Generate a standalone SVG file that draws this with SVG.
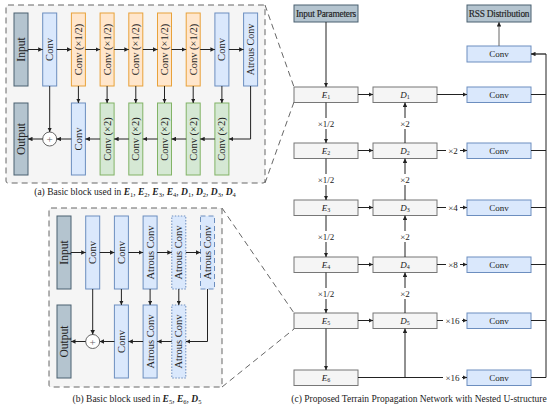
<svg xmlns="http://www.w3.org/2000/svg" width="550" height="406" viewBox="0 0 550 406">
<defs>
<marker id="ah" viewBox="0 0 10 10" refX="10" refY="5" markerWidth="4.5" markerHeight="4.5" markerUnits="userSpaceOnUse" orient="auto"><path d="M0,0 L10,5 L0,10 z" fill="#222"/></marker>
<style>
text{font-family:"Liberation Serif","DejaVu Serif",serif;fill:#222}
.panel{fill:#f5f5f5;stroke:#666;stroke-width:1;stroke-dasharray:6 4}
.zoomln{fill:none;stroke:#555;stroke-width:0.9;stroke-dasharray:6 4}
.io{fill:#b4c4cf;stroke:#4a6070;stroke-width:1}
.blue{fill:#dae8fc;stroke:#6c8ebf;stroke-width:1}
.orange{fill:#ffe6cc;stroke:#e8a23a;stroke-width:1}
.green{fill:#d5e8d4;stroke:#82b366;stroke-width:1}
.gray{fill:#f5f5f5;stroke:#777;stroke-width:1}
.dot{stroke-dasharray:1.5 1.5}
.dash{stroke-dasharray:5 3}
.ln{fill:none;stroke:#222;stroke-width:1}
.arr{fill:none;stroke:#222;stroke-width:1;marker-end:url(#ah)}
.vt{font-size:10.5px;text-anchor:middle;dominant-baseline:central}
.vio{font-size:11.5px;text-anchor:middle;dominant-baseline:central}
.ht{font-size:9px;text-anchor:middle;dominant-baseline:central}
.hio{font-size:9.3px;text-anchor:middle;dominant-baseline:central;letter-spacing:-0.2px;stroke:#222;stroke-width:0.15}
.cap{font-size:9.5px;text-anchor:middle}
.lbl{font-size:9px;text-anchor:middle;dominant-baseline:central}
.plus{fill:#fff;stroke:#666;stroke-width:1}
</style>
</defs>

<!-- panel backgrounds -->
<rect class="panel" x="6" y="5" width="259" height="178" rx="2"/>
<rect class="panel" x="49" y="208" width="173" height="179" rx="2"/>
<g id="zoom-lines">
<line class="zoomln" x1="265" y1="5" x2="294" y2="87"/>
<line class="zoomln" x1="265" y1="183" x2="294" y2="102"/>
<line class="zoomln" x1="222" y1="208" x2="294" y2="313"/>
<line class="zoomln" x1="222" y1="387" x2="294" y2="329"/>
</g>

<!-- ===== Panel (a) ===== -->
<g id="a-input"><rect class="io" x="14" y="13" width="14" height="73"/><text class="vio" transform="translate(21,49.5) rotate(-90)">Input</text></g>
<g id="a-conv1"><rect class="blue" x="42.7" y="13" width="14" height="73"/><text class="vt" transform="translate(49.7,49.5) rotate(-90)">Conv</text></g>
<g id="a-down1"><rect class="orange" x="71.4" y="13" width="14" height="73"/><text class="vt" transform="translate(78.4,49.5) rotate(-90)">Conv (×1/2)</text></g>
<g id="a-down2"><rect class="orange" x="100.1" y="13" width="14" height="73"/><text class="vt" transform="translate(107.1,49.5) rotate(-90)">Conv (×1/2)</text></g>
<g id="a-down3"><rect class="orange" x="128.8" y="13" width="14" height="73"/><text class="vt" transform="translate(135.8,49.5) rotate(-90)">Conv (×1/2)</text></g>
<g id="a-down4"><rect class="orange" x="157.5" y="13" width="14" height="73"/><text class="vt" transform="translate(164.5,49.5) rotate(-90)">Conv (×1/2)</text></g>
<g id="a-down5"><rect class="orange" x="186.2" y="13" width="14" height="73"/><text class="vt" transform="translate(193.2,49.5) rotate(-90)">Conv (×1/2)</text></g>
<g id="a-conv2"><rect class="blue" x="214.9" y="13" width="14" height="73"/><text class="vt" transform="translate(221.9,49.5) rotate(-90)">Conv</text></g>
<g id="a-atrous"><rect class="blue" x="243.6" y="13" width="14" height="73"/><text class="vt" style="font-size:10px" transform="translate(250.6,49.5) rotate(-90)">Atrous Conv</text></g>

<g id="a-output"><rect class="io" x="14" y="103" width="14" height="72"/><text class="vio" transform="translate(21,139) rotate(-90)">Output</text></g>
<g id="a-plus"><circle class="plus" cx="49.7" cy="139" r="7"/><text x="49.7" y="139" style="font-size:11px;text-anchor:middle;dominant-baseline:central;fill:#666">+</text></g>
<g id="a-conv3"><rect class="blue" x="71.4" y="103" width="14" height="72"/><text class="vt" transform="translate(78.4,139) rotate(-90)">Conv</text></g>
<g id="a-up1"><rect class="green" x="100.1" y="103" width="14" height="72"/><text class="vt" transform="translate(107.1,139) rotate(-90)">Conv (×2)</text></g>
<g id="a-up2"><rect class="green" x="128.8" y="103" width="14" height="72"/><text class="vt" transform="translate(135.8,139) rotate(-90)">Conv (×2)</text></g>
<g id="a-up3"><rect class="green" x="157.5" y="103" width="14" height="72"/><text class="vt" transform="translate(164.5,139) rotate(-90)">Conv (×2)</text></g>
<g id="a-up4"><rect class="green" x="186.2" y="103" width="14" height="72"/><text class="vt" transform="translate(193.2,139) rotate(-90)">Conv (×2)</text></g>
<g id="a-up5"><rect class="green" x="214.9" y="103" width="14" height="72"/><text class="vt" transform="translate(221.9,139) rotate(-90)">Conv (×2)</text></g>

<g id="a-connectors">
<line class="arr" x1="28" y1="49.5" x2="42.7" y2="49.5"/>
<line class="arr" x1="56.7" y1="49.5" x2="71.4" y2="49.5"/>
<line class="arr" x1="85.4" y1="49.5" x2="100.1" y2="49.5"/>
<line class="arr" x1="114.1" y1="49.5" x2="128.8" y2="49.5"/>
<line class="arr" x1="142.8" y1="49.5" x2="157.5" y2="49.5"/>
<line class="arr" x1="171.5" y1="49.5" x2="186.2" y2="49.5"/>
<line class="arr" x1="200.2" y1="49.5" x2="214.9" y2="49.5"/>
<line class="arr" x1="228.9" y1="49.5" x2="243.6" y2="49.5"/>
<line class="arr" x1="78.4" y1="86" x2="78.4" y2="103"/>
<line class="arr" x1="107.1" y1="86" x2="107.1" y2="103"/>
<line class="arr" x1="135.8" y1="86" x2="135.8" y2="103"/>
<line class="arr" x1="164.5" y1="86" x2="164.5" y2="103"/>
<line class="arr" x1="193.2" y1="86" x2="193.2" y2="103"/>
<line class="arr" x1="221.9" y1="86" x2="221.9" y2="103"/>
<polyline class="arr" points="250.6,86 250.6,139 228.9,139"/>
<line class="arr" x1="214.9" y1="139" x2="200.2" y2="139"/>
<line class="arr" x1="186.2" y1="139" x2="171.5" y2="139"/>
<line class="arr" x1="157.5" y1="139" x2="142.8" y2="139"/>
<line class="arr" x1="128.8" y1="139" x2="114.1" y2="139"/>
<line class="arr" x1="100.1" y1="139" x2="85.4" y2="139"/>
<line class="arr" x1="71.4" y1="139" x2="56.7" y2="139"/>
<line class="arr" x1="42.7" y1="139" x2="28" y2="139"/>
<line class="arr" x1="49.7" y1="86" x2="49.7" y2="132"/>
</g>
<text class="cap" x="135" y="195">(a) Basic block used in <tspan font-style="italic" font-weight="bold">E</tspan><tspan font-size="6.5" dy="2">1</tspan><tspan dy="-2">, </tspan><tspan font-style="italic" font-weight="bold">E</tspan><tspan font-size="6.5" dy="2">2</tspan><tspan dy="-2">, </tspan><tspan font-style="italic" font-weight="bold">E</tspan><tspan font-size="6.5" dy="2">3</tspan><tspan dy="-2">, </tspan><tspan font-style="italic" font-weight="bold">E</tspan><tspan font-size="6.5" dy="2">4</tspan><tspan dy="-2">, </tspan><tspan font-style="italic" font-weight="bold">D</tspan><tspan font-size="6.5" dy="2">1</tspan><tspan dy="-2">, </tspan><tspan font-style="italic" font-weight="bold">D</tspan><tspan font-size="6.5" dy="2">2</tspan><tspan dy="-2">, </tspan><tspan font-style="italic" font-weight="bold">D</tspan><tspan font-size="6.5" dy="2">3</tspan><tspan dy="-2">, </tspan><tspan font-style="italic" font-weight="bold">D</tspan><tspan font-size="6.5" dy="2">4</tspan></text>

<!-- ===== Panel (b) ===== -->
<g id="b-input"><rect class="io" x="57" y="216" width="14" height="73"/><text class="vio" transform="translate(64,252.5) rotate(-90)">Input</text></g>
<g id="b-conv1"><rect class="blue" x="85.7" y="216" width="14" height="73"/><text class="vt" transform="translate(92.7,252.5) rotate(-90)">Conv</text></g>
<g id="b-conv2"><rect class="blue" x="114.4" y="216" width="14" height="73"/><text class="vt" transform="translate(121.4,252.5) rotate(-90)">Conv</text></g>
<g id="b-atrous1"><rect class="blue" x="143.1" y="216" width="14" height="73"/><text class="vt" transform="translate(150.1,252.5) rotate(-90)">Atrous Conv</text></g>
<g id="b-atrous2"><rect class="blue dot" x="171.8" y="216" width="14" height="73"/><text class="vt" transform="translate(178.8,252.5) rotate(-90)">Atrous Conv</text></g>
<g id="b-atrous3"><rect class="blue dash" x="200.5" y="216" width="14" height="73"/><text class="vt" transform="translate(207.5,252.5) rotate(-90)">Atrous Conv</text></g>

<g id="b-output"><rect class="io" x="57" y="305" width="14" height="73"/><text class="vio" transform="translate(64,341.5) rotate(-90)">Output</text></g>
<g id="b-plus"><circle class="plus" cx="92.7" cy="341.5" r="7"/><text x="92.7" y="341.5" style="font-size:11px;text-anchor:middle;dominant-baseline:central;fill:#666">+</text></g>
<g id="b-conv3"><rect class="blue" x="114.4" y="305" width="14" height="73"/><text class="vt" transform="translate(121.4,341.5) rotate(-90)">Conv</text></g>
<g id="b-atrous4"><rect class="blue" x="143.1" y="305" width="14" height="73"/><text class="vt" transform="translate(150.1,341.5) rotate(-90)">Atrous Conv</text></g>
<g id="b-atrous5"><rect class="blue dot" x="171.8" y="305" width="14" height="73"/><text class="vt" transform="translate(178.8,341.5) rotate(-90)">Atrous Conv</text></g>

<g id="b-connectors">
<line class="arr" x1="71" y1="252.5" x2="85.7" y2="252.5"/>
<line class="arr" x1="99.7" y1="252.5" x2="114.4" y2="252.5"/>
<line class="arr" x1="128.4" y1="252.5" x2="143.1" y2="252.5"/>
<line class="arr" x1="157.1" y1="252.5" x2="171.8" y2="252.5"/>
<line class="arr" x1="185.8" y1="252.5" x2="200.5" y2="252.5"/>
<line class="arr" x1="92.7" y1="289" x2="92.7" y2="334.5"/>
<line class="arr" x1="121.4" y1="289" x2="121.4" y2="305"/>
<line class="arr" x1="150.1" y1="289" x2="150.1" y2="305"/>
<line class="arr" x1="178.8" y1="289" x2="178.8" y2="305"/>
<polyline class="arr" points="207.5,289 207.5,341.5 185.8,341.5"/>
<line class="arr" x1="171.8" y1="341.5" x2="157.1" y2="341.5"/>
<line class="arr" x1="143.1" y1="341.5" x2="128.4" y2="341.5"/>
<line class="arr" x1="114.4" y1="341.5" x2="99.7" y2="341.5"/>
<line class="arr" x1="85.7" y1="341.5" x2="71" y2="341.5"/>
</g>
<text class="cap" x="137" y="402">(b) Basic block used in <tspan font-style="italic" font-weight="bold">E</tspan><tspan font-size="6.5" dy="2">5</tspan><tspan dy="-2">, </tspan><tspan font-style="italic" font-weight="bold">E</tspan><tspan font-size="6.5" dy="2">6</tspan><tspan dy="-2">, </tspan><tspan font-style="italic" font-weight="bold">D</tspan><tspan font-size="6.5" dy="2">5</tspan></text>

<!-- ===== Panel (c) ===== -->
<g id="c-input"><rect class="io" x="294" y="5" width="64" height="17"/><text class="hio" x="326" y="13.5">Input Parameters</text></g>
<g id="c-rss"><rect class="io" x="467" y="5" width="64" height="17"/><text class="hio" x="499" y="13.5">RSS Distribution</text></g>
<g id="c-conv0"><rect class="blue" x="467" y="46" width="64" height="16"/><text class="ht" x="499" y="54">Conv</text></g>

<g id="c-E1"><rect class="gray" x="294" y="87" width="64" height="15.5"/><text class="ht" x="326" y="94.5"><tspan font-style="italic">E</tspan><tspan font-size="6" dy="2">1</tspan></text></g>
<g id="c-E2"><rect class="gray" x="294" y="143" width="64" height="15.5"/><text class="ht" x="326" y="150.5"><tspan font-style="italic">E</tspan><tspan font-size="6" dy="2">2</tspan></text></g>
<g id="c-E3"><rect class="gray" x="294" y="200" width="64" height="15.5"/><text class="ht" x="326" y="207.5"><tspan font-style="italic">E</tspan><tspan font-size="6" dy="2">3</tspan></text></g>
<g id="c-E4"><rect class="gray" x="294" y="257" width="64" height="15.5"/><text class="ht" x="326" y="264.5"><tspan font-style="italic">E</tspan><tspan font-size="6" dy="2">4</tspan></text></g>
<g id="c-E5"><rect class="gray" x="294" y="313" width="64" height="15.5"/><text class="ht" x="326" y="320.5"><tspan font-style="italic">E</tspan><tspan font-size="6" dy="2">5</tspan></text></g>
<g id="c-E6"><rect class="gray" x="294" y="370" width="64" height="15.5"/><text class="ht" x="326" y="377.5"><tspan font-style="italic">E</tspan><tspan font-size="6" dy="2">6</tspan></text></g>

<g id="c-D1"><rect class="gray" x="373" y="87" width="64" height="15.5"/><text class="ht" x="405" y="94.5"><tspan font-style="italic">D</tspan><tspan font-size="6" dy="2">1</tspan></text></g>
<g id="c-D2"><rect class="gray" x="373" y="143" width="64" height="15.5"/><text class="ht" x="405" y="150.5"><tspan font-style="italic">D</tspan><tspan font-size="6" dy="2">2</tspan></text></g>
<g id="c-D3"><rect class="gray" x="373" y="200" width="64" height="15.5"/><text class="ht" x="405" y="207.5"><tspan font-style="italic">D</tspan><tspan font-size="6" dy="2">3</tspan></text></g>
<g id="c-D4"><rect class="gray" x="373" y="257" width="64" height="15.5"/><text class="ht" x="405" y="264.5"><tspan font-style="italic">D</tspan><tspan font-size="6" dy="2">4</tspan></text></g>
<g id="c-D5"><rect class="gray" x="373" y="313" width="64" height="15.5"/><text class="ht" x="405" y="320.5"><tspan font-style="italic">D</tspan><tspan font-size="6" dy="2">5</tspan></text></g>

<g id="c-conv1"><rect class="blue" x="467" y="87" width="64" height="15.5"/><text class="ht" x="499" y="94.5">Conv</text></g>
<g id="c-conv2"><rect class="blue" x="467" y="143" width="64" height="15.5"/><text class="ht" x="499" y="150.5">Conv</text></g>
<g id="c-conv3"><rect class="blue" x="467" y="200" width="64" height="15.5"/><text class="ht" x="499" y="207.5">Conv</text></g>
<g id="c-conv4"><rect class="blue" x="467" y="257" width="64" height="15.5"/><text class="ht" x="499" y="264.5">Conv</text></g>
<g id="c-conv5"><rect class="blue" x="467" y="313" width="64" height="15.5"/><text class="ht" x="499" y="320.5">Conv</text></g>
<g id="c-conv6"><rect class="blue" x="467" y="370" width="64" height="15.5"/><text class="ht" x="499" y="377.5">Conv</text></g>

<g id="c-connectors">
<line class="arr" x1="326" y1="22" x2="326" y2="87"/>
<line class="arr" x1="499" y1="46" x2="499" y2="22" style="stroke:#666"/>
<!-- right bus -->
<polyline class="ln" points="531,94.5 546,94.5"/>
<polyline class="ln" points="531,150.5 546,150.5"/>
<polyline class="ln" points="531,207.5 546,207.5"/>
<polyline class="ln" points="531,264.5 546,264.5"/>
<polyline class="ln" points="531,320.5 546,320.5"/>
<polyline class="ln" points="531,377.5 546,377.5 546,54"/>
<line class="arr" x1="546" y1="54" x2="531" y2="54" style="stroke-width:1.3"/>
<!-- E to D -->
<line class="arr" x1="358" y1="94.5" x2="373" y2="94.5"/>
<line class="arr" x1="358" y1="150.5" x2="373" y2="150.5"/>
<line class="arr" x1="358" y1="207.5" x2="373" y2="207.5"/>
<line class="arr" x1="358" y1="264.5" x2="373" y2="264.5"/>
<line class="arr" x1="358" y1="320.5" x2="373" y2="320.5"/>
<!-- D to Conv -->
<line class="arr" x1="437" y1="94.5" x2="467" y2="94.5"/>
<line class="arr" x1="437" y1="150.5" x2="467" y2="150.5"/>
<line class="arr" x1="437" y1="207.5" x2="467" y2="207.5"/>
<line class="arr" x1="437" y1="264.5" x2="467" y2="264.5"/>
<line class="arr" x1="437" y1="320.5" x2="467" y2="320.5"/>
<line class="arr" x1="358" y1="377.5" x2="467" y2="377.5"/>
<line class="arr" x1="405" y1="377.5" x2="405" y2="328.5"/>
<!-- E down -->
<line class="arr" x1="326" y1="102.5" x2="326" y2="143"/>
<line class="arr" x1="326" y1="158.5" x2="326" y2="200"/>
<line class="arr" x1="326" y1="215.5" x2="326" y2="257"/>
<line class="arr" x1="326" y1="272.5" x2="326" y2="313"/>
<line class="arr" x1="326" y1="328.5" x2="326" y2="370"/>
<!-- D up -->
<line class="arr" x1="405" y1="143" x2="405" y2="102.5"/>
<line class="arr" x1="405" y1="200" x2="405" y2="158.5"/>
<line class="arr" x1="405" y1="257" x2="405" y2="215.5"/>
<line class="arr" x1="405" y1="313" x2="405" y2="272.5"/>
</g>

<g id="c-labels">
<rect x="315" y="118" width="22" height="11" fill="#fff"/><text class="lbl" x="326" y="123.5">×1/2</text>
<rect x="315" y="174" width="22" height="11" fill="#fff"/><text class="lbl" x="326" y="179.5">×1/2</text>
<rect x="315" y="231" width="22" height="11" fill="#fff"/><text class="lbl" x="326" y="236.5">×1/2</text>
<rect x="315" y="288" width="22" height="11" fill="#fff"/><text class="lbl" x="326" y="293.5">×1/2</text>
<rect x="398" y="118" width="14" height="11" fill="#fff"/><text class="lbl" x="405" y="123.5">×2</text>
<rect x="398" y="174" width="14" height="11" fill="#fff"/><text class="lbl" x="405" y="179.5">×2</text>
<rect x="398" y="231" width="14" height="11" fill="#fff"/><text class="lbl" x="405" y="236.5">×2</text>
<rect x="398" y="288" width="14" height="11" fill="#fff"/><text class="lbl" x="405" y="293.5">×2</text>
<rect x="446" y="145" width="14" height="11" fill="#fff"/><text class="lbl" x="453" y="150.5">×2</text>
<rect x="446" y="202" width="14" height="11" fill="#fff"/><text class="lbl" x="453" y="207.5">×4</text>
<rect x="446" y="259" width="14" height="11" fill="#fff"/><text class="lbl" x="453" y="264.5">×8</text>
<rect x="443" y="315" width="19" height="11" fill="#fff"/><text class="lbl" x="452.5" y="320.5">×16</text>
<rect x="443" y="372" width="19" height="11" fill="#fff"/><text class="lbl" x="452.5" y="377.5">×16</text>
</g>
<text class="cap" x="419" y="402">(c) Proposed Terrain Propagation Network with Nested U-structure</text>
</svg>
